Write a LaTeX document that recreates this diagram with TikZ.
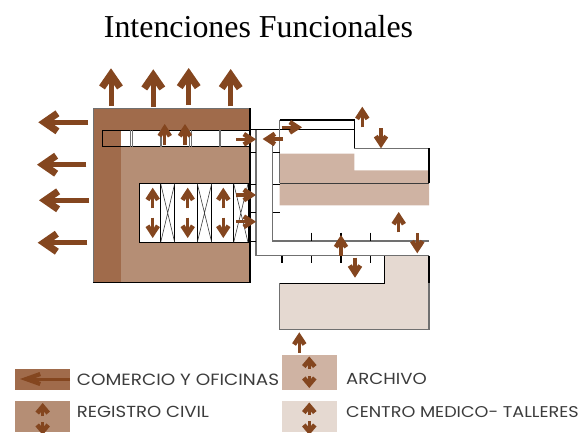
\documentclass[tikz,border=0pt]{standalone}
\usepackage{fontspec}
\setmainfont{Liberation Serif}
\newfontfamily\legendfont[FakeStretch=1.13]{Poppins}
\usetikzlibrary{arrows.meta}
\definecolor{comercio}{HTML}{A06B4B}
\definecolor{registro}{HTML}{B58E75}
\definecolor{archivo}{HTML}{CFB3A3}
\definecolor{centro}{HTML}{E5D9D1}
\definecolor{flecha}{HTML}{84461F}
\definecolor{tinta}{HTML}{3C3C3C}
\definecolor{gris}{HTML}{707070}
\tikzset{
  bigarr/.style={draw=flecha,line width=5pt,-{Straight Barb[length=13pt,width=18pt,line width=7pt]}},
  midarr/.style={draw=flecha,line width=3.4pt,-{Straight Barb[length=8pt,width=10.5pt,line width=4.6pt]}},
  legarr/.style={draw=flecha,line width=3pt,-{Straight Barb[length=6.5pt,width=11pt,line width=4.6pt]}},
  blk/.style={draw=black,line width=1.3pt},
  thn/.style={draw=gris,line width=1.2pt},
  xl/.style={draw=tinta,line width=.6pt},
  legtext/.style={text=tinta,anchor=west,inner sep=0pt},
}
\newcommand{\lgf}[1]{\legendfont\fontsize{#1}{18}\selectfont}
\begin{document}
\begin{tikzpicture}[x=1pt,y=-1pt]
\useasboundingbox (0,0) rectangle (582,432);
\node[font=\fontsize{31.9}{34}\selectfont,inner sep=0pt] (title) at (258.5,27) {Intenciones Funcionales};
% main block
\fill[registro] (93.3,108.3) rectangle (250,282.7);
\fill[comercio] (93.3,108.3) rectangle (121,282.7);
\fill[comercio] (93.3,108.3) rectangle (250,130.3);
\fill[white] (121,130.3) rectangle (250,146.7);
\fill[white] (139,183.7) rectangle (250,242.3);
\draw[thn] (93.3,282.7) -- (93.3,108.3) -- (250,108.3);
\draw[blk] (93.3,282.7) -- (250,282.7);
\draw[blk,line width=1.6pt] (250,108.3) -- (250,282.7);
% upper corridor
\draw[blk,line width=1pt] (102.3,130.3) rectangle (250,146.7);
\foreach \xx in {130.7,132.5,160,161.8,189,191,219,220.7}
  \draw[thn,line width=.8pt] (\xx,130.3) -- (\xx,146.7);
% central block
\draw[blk,line width=1pt] (139,183.7) rectangle (250,242.3);
\foreach \xx/\xy in {160.7/174.7,197.3/211.7,233.7/248}{
  \draw[blk,line width=.8pt] (\xx,183.7) -- (\xx,242.3) (\xy,183.7) -- (\xy,242.3);
  \draw[xl] (\xx,183.7) -- (\xy,242.3) (\xy,183.7) -- (\xx,242.3);
}
% archivo fills
\fill[archivo] (279.7,153.7) -- (354.3,153.7) -- (354.3,170.3) -- (429,170.3) -- (429,205.3) -- (279.7,205.3) -- cycle;
% centro fill
\fill[centro] (279.7,283.3) -- (384.3,283.3) -- (384.3,255.7) -- (429,255.7) -- (429,329.3) -- (279.7,329.3) -- cycle;
% corridors
\draw[thn] (256,129.7) -- (256,255.7) -- (429,255.7);
\draw[thn] (272.7,139) -- (272.7,241) -- (429,241);
\draw[blk] (250,129.7) -- (354.3,129.7);
\draw[blk] (279.7,120) -- (354.3,120) -- (354.3,148.3);
\draw[thn] (279.7,120) -- (279.7,183.3);
\draw[thn] (354.3,148.3) -- (429,148.3);
\draw[blk] (429,148.3) -- (429,183.3);
\draw[draw=tinta,line width=1pt] (279.7,183.3) -- (429,183.3);
\foreach \yy in {152.5,184.5,212.7,241.5} \draw[blk] (250,\yy) -- (256,\yy);
\foreach \yy in {152.5,184.5,212.7} \draw[blk] (272.7,\yy) -- (280,\yy);
\foreach \xx in {311.3,341,370.7} \draw[blk] (\xx,232.7) -- (\xx,241);
\foreach \xx in {282,311.3,341,370.7} \draw[blk] (\xx,255.7) -- (\xx,262.7);
% centro outline
\draw[thn] (429,283.3) -- (429,329.3) -- (279.7,329.3) -- (279.7,283.3);
\draw[blk] (279.7,283.3) -- (384.3,283.3) -- (384.3,255.7);
\draw[blk] (429,255.7) -- (429,283.3);
% big arrows
\draw[bigarr] (111,106) -- (111,68.3);
\draw[bigarr] (153.3,107) -- (153.3,69.3);
\draw[bigarr] (188.7,105) -- (188.7,68);
\draw[bigarr] (230.7,106.3) -- (230.7,69);
\draw[bigarr] (88,122.3) -- (38.3,122.3);
\draw[bigarr] (86.3,164.7) -- (37,164.7);
\draw[bigarr] (89,200.3) -- (39,200.3);
\draw[bigarr] (87.3,242.7) -- (37.7,242.7);
% mid arrows
\draw[midarr] (164.7,145) -- (164.7,124);
\draw[midarr] (185,145) -- (185,124);
\draw[midarr] (236,139.3) -- (256,139.3);
\draw[midarr] (283,139) -- (262.7,139);
\draw[midarr] (281.7,127.3) -- (302,127.3);
\draw[midarr] (362.3,127.3) -- (362.3,106.7);
\draw[midarr] (381,128.3) -- (381,148.3);
\foreach \xx in {152.7,187.7,223.3}{
  \draw[midarr] (\xx,208.3) -- (\xx,187.7);
  \draw[midarr] (\xx,217.7) -- (\xx,238);
}
\draw[midarr] (236,195) -- (256,195);
\draw[midarr] (236,221.7) -- (256,221.7);
\draw[midarr] (398.7,232.3) -- (398.7,212);
\draw[midarr] (417.3,233.3) -- (417.3,253.3);
\draw[midarr] (341,255.7) -- (341,235);
\draw[midarr] (355,257.7) -- (355,277.7);
\draw[midarr] (299.3,352.7) -- (299.3,332.3);
% legend
\fill[comercio] (14.7,369) rectangle (70,389.7);
\draw[flecha,line width=3pt,-{Straight Barb[length=14pt,width=10pt,line width=4.2pt]}] (70,379) -- (20,379);
\fill[archivo] (282.3,355) rectangle (337,389.7);
\draw[legarr] (309.3,369) -- (309.3,356.5);
\draw[legarr] (309.3,376) -- (309.3,388);
\begin{scope}
\clip (0,395) rectangle (582,432);
\fill[registro] (14.7,401) rectangle (70,432);
\fill[centro] (282.3,401) rectangle (337,432);
\draw[legarr] (42.7,416) -- (42.7,403);
\draw[legarr] (42.7,422) -- (42.7,435);
\draw[legarr] (309.3,415) -- (309.3,402.5);
\draw[legarr] (309.3,421) -- (309.3,435);
\end{scope}
\node[legtext,font=\lgf{16.3}] (l1) at (76.7,379.3) {COMERCIO Y OFICINAS};
\node[legtext,font=\lgf{16}] (l2) at (346,379.3) {ARCHIVO};
\node[legtext,font=\lgf{16}] (l3) at (76.7,412.3) {REGISTRO CIVIL};
\node[legtext,font=\lgf{15.6}] (l4) at (346,412.3) {CENTRO MEDICO- TALLERES};
\end{tikzpicture}
\end{document}
